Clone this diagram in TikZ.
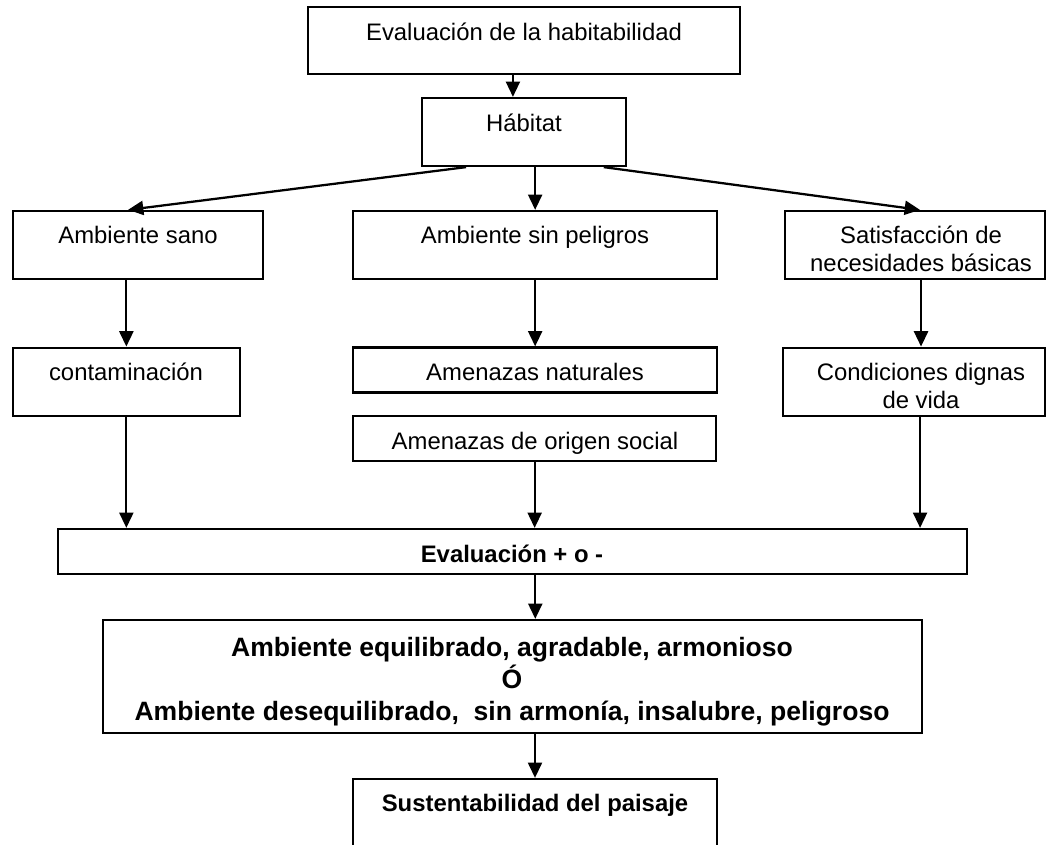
\documentclass[tikz,border=0pt]{standalone}
\usepackage{fontspec}
\setmainfont{Liberation Sans}
\usetikzlibrary{arrows.meta,fit,calc}
\begin{document}
\begin{tikzpicture}[x=0.75pt,y=-0.75pt,
  box/.style={draw, line width=1.7pt, inner sep=0pt, rectangle},
  txt/.style={inner sep=0pt, anchor=base, align=center, font=\fontsize{17.9}{20.8}\selectfont},
  btxt/.style={txt, font=\fontsize{17.9}{20.8}\selectfont\bfseries},
  bigtxt/.style={txt, font=\fontsize{19.9}{24}\selectfont\bfseries},
  arr/.style={line width=1.7pt, -{Triangle[length=11.5pt,width=10.5pt]}}]
\path[use as bounding box, clip] (0,0) rectangle (1046,844);

% boxes (text nodes anchored at the baseline of their last line)
\node[box, fit={(308,6.7) (740,74)}] (top) {};
\node[txt] (top-t) at (524,40) {Evaluación de la habitabilidad};
\node[box, fit={(422,98) (626,166)}] (hab) {};
\node[txt] (hab-t) at (524,131) {Hábitat};
\node[box, fit={(12.7,211) (263,279)}] (sano) {};
\node[txt] (sano-t) at (138,243.5) {Ambiente sano};
\node[box, fit={(353.3,211) (717,279)}] (sinp) {};
\node[txt] (sinp-t) at (535,243.5) {Ambiente sin peligros};
\node[box, fit={(785,211) (1045,279)}] (sat) {};
\node[txt] (sat-t) at (921,271.7) {Satisfacción de\\necesidades básicas};
\node[box, fit={(12.7,347.7) (240,416)}] (cont) {};
\node[txt] (cont-t) at (126,380) {contaminación};
\node[box, fit={(353.3,347.5) (717,392.5)}] (nat) {};
\node[txt] (nat-t) at (535,380) {Amenazas naturales};
\node[box, fit={(353.3,416) (716,461)}] (soc) {};
\node[txt] (soc-t) at (535,449) {Amenazas de origen social};
\node[box, fit={(783,347.7) (1045,416)}] (cond) {};
\node[txt] (cond-t) at (921,408.5) {Condiciones dignas\\de vida};
\node[box, fit={(58,529) (967,574)}] (eval) {};
\node[btxt] (eval-t) at (512,562.7) {Evaluación + o -};
\node[box, fit={(103,620) (922,733)}] (big) {};
\node[bigtxt] (big-t) at (512,720) {Ambiente equilibrado, agradable, armonioso\\Ó\\Ambiente desequilibrado,\ \ sin armonía, insalubre, peligroso};
\node[box, fit={(353,779) (717,860)}] (sust) {};
\node[btxt] (sust-t) at (535,811.7) {Sustentabilidad del paisaje};

% connectors
\coordinate (a1) at ($(top.south west)!0.4745!(top.south east)$);
\draw[arr] (a1) -- (a1 |- hab.north);
\draw[arr] ($(hab.south west)!0.219!(hab.south east)$) -- ($(sano.north west)!0.461!(sano.north east)$);
\draw[arr] (hab.south -| sinp.north) -- (sinp.north);
\draw[arr] ($(hab.south west)!0.887!(hab.south east)$) -- ($(sat.north west)!0.519!(sat.north east)$);
\draw[arr] (cont.north |- sano.south) -- (cont.north);
\draw[arr] (sinp.south) -- (nat.north);
\coordinate (c3) at ($(sat.south west)!0.523!(sat.south east)$);
\draw[arr] (c3) -- (c3 |- cond.north);
\draw[arr] (cont.south) -- (cont.south |- eval.north);
\draw[arr] (soc.south) -- (soc.south |- eval.north);
\coordinate (c4) at ($(cond.south west)!0.523!(cond.south east)$);
\draw[arr] (c4) -- (c4 |- eval.north);
\coordinate (e1) at ($(eval.south west)!0.525!(eval.south east)$);
\draw[arr] (e1) -- (e1 |- big.north);
\draw[arr] (sust.north |- big.south) -- (sust.north);
\end{tikzpicture}
\end{document}
